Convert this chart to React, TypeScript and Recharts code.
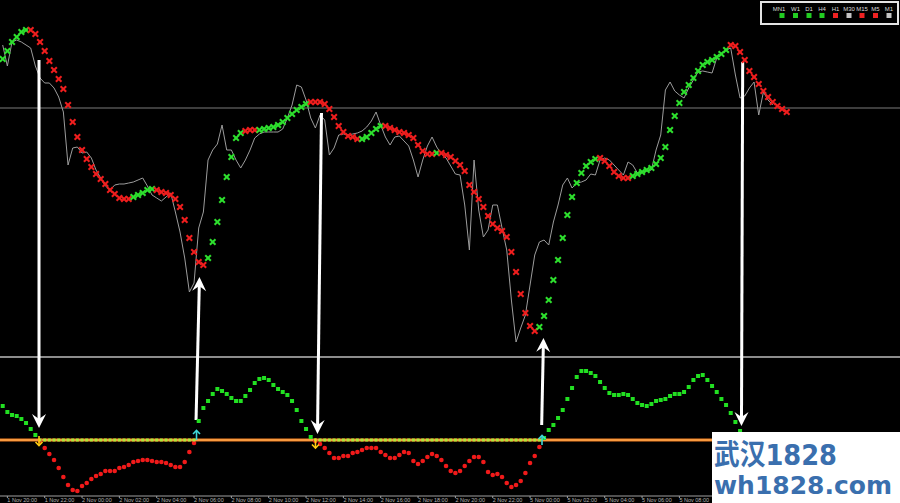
import { ComposedChart, Line, Scatter, XAxis, YAxis, ReferenceLine, ReferenceDot } from 'recharts';

// one entry per bar (M15), oldest first
const priceLine = [
  310, 289, 313, 315, 313, 310, 307, 289, 277, 272,
  272, 267, 258, 243, 190, 207, 208, 202, 203, 197,
  185, 177, 169, 165, 170, 171, 171, 172, 173, 175,
  177, 169, 160, 157, 154, 158, 162, 143, 123, 97,
  63, 72, 127, 143, 195, 205, 211, 230, 205, 205,
  195, 187, 195, 205, 217, 221, 223, 223, 223, 223,
  226, 237, 250, 270, 268, 255, 237, 227, 240, 235,
  200, 207, 220, 221, 220, 221, 222, 224, 228, 234,
  243, 230, 218, 210, 218, 219, 214, 209, 195, 178,
  195, 209, 218, 208, 201, 197, 189, 181, 180, 150,
  105, 195, 145, 118, 125, 150, 150, 127, 105, 55,
  13, 27, 40, 70, 100, 113, 115, 110, 133, 150,
  170, 177, 167, 172, 173, 175, 181, 180, 195, 197,
  195, 190, 185, 180, 193, 190, 182, 183, 184, 185,
  205, 220, 265, 273, 264, 260, 257, 267, 275, 283,
  284, 283, 282, 297, 302, 305, 307, 280, 257, 259,
  267, 273, 240, 263, 255, 250,
];

const signalLine = [
  296, 304, 313, 318, 323, 325, 325, 321, 313, 304,
  294, 285, 276, 266, 250, 233, 218, 205, 196, 188,
  181, 176, 171, 165, 161, 157, 156, 156, 158, 160,
  162, 165, 166, 165, 163, 162, 160, 156, 148, 135,
  117, 103, 93, 90, 97, 113, 133, 155, 178, 198,
  217, 222, 224, 225, 225, 225, 226, 227, 228, 230,
  233, 237, 241, 245, 248, 251, 253, 253, 253, 251,
  246, 238, 229, 223, 219, 218, 216, 216, 218, 222,
  226, 229, 229, 227, 225, 223, 222, 220, 217, 210,
  204, 201, 201, 202, 202, 200, 198, 194, 190, 184,
  170, 163, 156, 148, 139, 131, 127, 124, 118, 103,
  83, 61, 42, 29, 24, 28, 39, 55, 75, 95,
  117, 140, 158, 172, 182, 189, 193, 196, 197, 194,
  189, 183, 179, 177, 177, 179, 181, 183, 185, 187,
  191, 197, 208, 225, 239, 252, 263, 270, 277, 284,
  290, 293, 295, 298, 301, 305, 310, 309, 303, 295,
  284, 278, 271, 264, 258, 253, 249, 246, 243,
];

// runs of signal colour: G = rising, R = falling
const trendRuns: [string, number][] = [
  ['G', 6], ['R', 22], ['G', 5], ['R', 11], ['G', 8], ['R', 3], ['G', 11],
  ['R', 11], ['G', 5], ['R', 11], ['G', 1], ['R', 21], ['G', 13], ['R', 7],
  ['G', 21], ['R', 13],
];

const oscillator = [
  34, 28, 25, 24, 21, 17, 11, 5, -1, -8,
  -14, -20, -28, -37, -45, -50, -51, -46, -43, -39,
  -36, -34, -31, -31, -31, -28, -27, -25, -22, -21,
  -20, -20, -21, -22, -22, -23, -25, -27, -27, -22,
  -12, -3, 19, 32, 39, 46, 51, 49, 46, 42,
  39, 39, 44, 50, 57, 61, 62, 60, 55, 51,
  48, 45, 39, 30, 19, 11, 3, -1, -4, -8,
  -13, -18, -18, -16, -16, -13, -12, -10, -8, -8,
  -8, -12, -15, -18, -18, -15, -12, -13, -21, -24,
  -21, -17, -14, -16, -20, -26, -31, -33, -31, -26,
  -21, -17, -17, -22, -32, -35, -34, -37, -43, -47,
  -45, -41, -33, -23, -16, -7, 2, 10, 15, 22,
  30, 41, 52, 63, 69, 69, 67, 64, 58, 52,
  47, 45, 45, 46, 45, 41, 37, 35, 34, 36,
  39, 40, 41, 44, 46, 46, 48, 53, 60, 64,
  65, 60, 54, 48, 41, 35, 27, 18, 9, 2,
];

// labels right of the watermark box are hidden in the original, so they stop at bar 145
const tickBars = [1, 9, 17, 25, 33, 41, 49, 57, 65, 73, 81, 89, 97, 105, 113, 121, 129, 137, 145];
const tickLabels = [
  '1 Nov 20:00', '1 Nov 22:00', '2 Nov 00:00', '2 Nov 02:00', '2 Nov 04:00', '2 Nov 06:00',
  '2 Nov 08:00', '2 Nov 10:00', '2 Nov 12:00', '2 Nov 14:00', '2 Nov 16:00', '2 Nov 18:00',
  '2 Nov 20:00', '2 Nov 22:00', '5 Nov 00:00', '5 Nov 02:00', '5 Nov 04:00', '5 Nov 06:00',
  '5 Nov 08:00',
];

// hand-drawn annotation arrows (bar, price-panel units)
const signalArrows = [
  { fromBar: 7.78, from: 295, toBar: 7.78, to: -73 },
  { fromBar: 41.43, from: -65, toBar: 42.17, to: 78 },
  { fromBar: 68.31, from: 242, toBar: 67.45, to: -79 },
  { fromBar: 115.49, from: -70, toBar: 115.88, to: 17 },
  { fromBar: 158.56, from: 293, toBar: 158.3, to: -71 },
];

const crossArrows = [
  { bar: 7.78, at: -1, dir: 'down' },
  { bar: 41.53, at: 5, dir: 'up' },
  { bar: 67.02, at: -3.5, dir: 'down' },
  { bar: 115.56, at: 0, dir: 'up' },
];

const timeframes = ['MN1', 'W1', 'D1', 'H4', 'H1', 'M30', 'M15', 'M5', 'M1'];
const tfStates = ['up', 'up', 'up', 'up', 'down', 'flat', 'down', 'down', 'flat'];

const trend = trendRuns.flatMap(([c, n]) => Array(n).fill(c));
const priceRows = priceLine.map((v, i) => ({ i, v }));
const signalRows = signalLine.map((v, i) => ({ i, v, up: trend[i] === 'G' }));
const oscRows = oscillator.map((v, i) => ({ i, v }));
const zeroRows = oscillator.map((v, i) => ({ i, v: 0, neg: v < 0 })).filter((r) => r.neg);

const GREEN = '#2ee02e';
const RED = '#f01e1e';

const XMark = (p: any) => {
  const { cx, cy, payload } = p;
  const c = payload.up ? GREEN : RED;
  const s = 2.8;
  return (
    <g stroke={c} strokeWidth={2}>
      <line x1={cx - s} y1={cy - s} x2={cx + s} y2={cy + s} />
      <line x1={cx - s} y1={cy + s} x2={cx + s} y2={cy - s} />
    </g>
  );
};

const OscDot = (p: any) =>
  p.payload.v >= 0 ? (
    <rect x={p.cx - 2} y={p.cy - 2} width={4} height={4} fill="#22e022" />
  ) : (
    <circle cx={p.cx} cy={p.cy} r={2.3} fill="#f01a1a" />
  );

const ZeroDot = (p: any) => <rect x={p.cx - 1.5} y={p.cy - 1.5} width={3} height={3} fill="#aee83a" />;

const BigArrow = (p: any) => {
  const { x1, y1, x2, y2 } = p;
  const dx = x2 - x1;
  const dy = y2 - y1;
  const len = Math.hypot(dx, dy) || 1;
  const ux = dx / len;
  const uy = dy / len;
  const px = -uy;
  const py = ux;
  const head = 14;
  const half = 7;
  const notch = 5;
  const bx = x2 - ux * head;
  const by = y2 - uy * head;
  const nx = x2 - ux * (head - notch);
  const ny = y2 - uy * (head - notch);
  return (
    <g>
      <line x1={x1} y1={y1} x2={nx} y2={ny} stroke="#ffffff" strokeWidth={3} />
      <polygon
        points={`${x2},${y2} ${bx + px * half},${by + py * half} ${nx},${ny} ${bx - px * half},${by - py * half}`}
        fill="#ffffff"
      />
    </g>
  );
};

const SmallArrow = (p: any, dir: string) => {
  const { cx, cy } = p;
  const d = dir === 'down' ? 1 : -1;
  const c = dir === 'down' ? '#ffcc10' : '#3fd8d8';
  return (
    <g stroke={c} strokeWidth={1.6} fill="none">
      <line x1={cx} y1={cy - 5 * d} x2={cx} y2={cy + 4 * d} />
      <polyline points={`${cx - 3.5},${cy + 1 * d} ${cx},${cy + 4.5 * d} ${cx + 3.5},${cy + 1 * d}`} />
    </g>
  );
};

const sqX = [782, 795.5, 809, 822, 835.5, 849, 862, 875.5, 889];
const stateColor: Record<string, string> = { up: '#22cc22', down: '#ee2222', flat: '#c4c4c4' };

export default function App() {
  return (
    <div style={{ position: 'absolute', left: 0, top: 0, width: 900, height: 503, overflow: 'hidden', background: '#000' }}>
      <ComposedChart width={900} height={520} margin={{ top: 0, right: 0, bottom: 0, left: 0 }}>
        <XAxis
          type="number"
          dataKey="i"
          domain={[-0.579, 192.27]}
          allowDataOverflow
          ticks={tickBars}
          interval={0}
          tickFormatter={(v: number) => tickLabels[tickBars.indexOf(v)] ?? ''}
          height={24}
          tickSize={2}
          tickMargin={0}
          axisLine={{ stroke: '#a0a0a0' }}
          tickLine={{ stroke: '#a0a0a0' }}
          tick={{ fill: '#b4b4b4', fontSize: 5.5, fontFamily: 'Liberation Sans, Arial, sans-serif', textAnchor: 'start' }}
        />
        <YAxis yAxisId="top" type="number" domain={[-141, 355]} allowDataOverflow hide />
        <YAxis yAxisId="osc" type="number" domain={[-56, 440]} allowDataOverflow hide />

        <ReferenceLine yAxisId="top" y={247} stroke="#7a7a7a" strokeWidth={1} />
        <ReferenceLine yAxisId="top" y={-2} stroke="#8c8c8c" strokeWidth={2} />
        <ReferenceLine yAxisId="osc" y={0} stroke="#f07a1e" strokeWidth={3} />
        <ReferenceLine yAxisId="osc" y={0} stroke="#ffb860" strokeWidth={1} />

        <Line
          yAxisId="top"
          data={priceRows}
          dataKey="v"
          type="linear"
          stroke="#9c9c9c"
          strokeWidth={1}
          dot={false}
          activeDot={false}
          isAnimationActive={false}
        />
        <Scatter yAxisId="top" data={signalRows} dataKey="v" shape={XMark} isAnimationActive={false} />
        <Scatter yAxisId="osc" data={oscRows} dataKey="v" shape={OscDot} isAnimationActive={false} />
        <Scatter yAxisId="osc" data={zeroRows} dataKey="v" shape={ZeroDot} isAnimationActive={false} />

        {crossArrows.map((a, k) => (
          <ReferenceDot
            key={`c${k}`}
            yAxisId="osc"
            x={a.bar}
            y={a.at}
            r={4}
            ifOverflow="visible"
            shape={(p: any) => SmallArrow(p, a.dir)}
          />
        ))}
        {signalArrows.map((a, k) => (
          <ReferenceLine
            key={`a${k}`}
            yAxisId="top"
            ifOverflow="visible"
            segment={[{ x: a.fromBar, y: a.from }, { x: a.toBar, y: a.to }]}
            shape={BigArrow}
          />
        ))}
      </ComposedChart>

      <svg width={900} height={503} style={{ position: 'absolute', left: 0, top: 0 }}>
        <rect x={761} y={2} width={137} height={22} fill="#000" stroke="#e4e4e4" strokeWidth={2} />
        {timeframes.map((tf, k) => (
          <g key={tf}>
            <text
              x={sqX[k] - (k === 0 ? 3 : 0)}
              y={11}
              textAnchor="middle"
              fontSize={6}
              fontFamily="Liberation Sans, Arial, sans-serif"
              fill="#d8d8d8"
            >
              {tf}
            </text>
            <rect x={sqX[k] - 2.5} y={13} width={5} height={5} fill={stateColor[tfStates[k]]} />
          </g>
        ))}

        <rect x={712} y={432} width={188} height={71} fill="#ffffff" />
        <text
          x={714}
          y={465}
          fontSize={29}
          fontWeight={700}
          fontFamily="DejaVu Sans, Noto Sans CJK SC, sans-serif"
          fill="#3a6fae"
          textLength={123}
          lengthAdjust="spacingAndGlyphs"
        >
          武汉1828
        </text>
        <text
          x={714}
          y={494}
          fontSize={25}
          fontWeight={700}
          fontFamily="DejaVu Sans, sans-serif"
          fill="#3a6fae"
          textLength={178}
          lengthAdjust="spacingAndGlyphs"
        >
          wh1828.com
        </text>
      </svg>
    </div>
  );
}
